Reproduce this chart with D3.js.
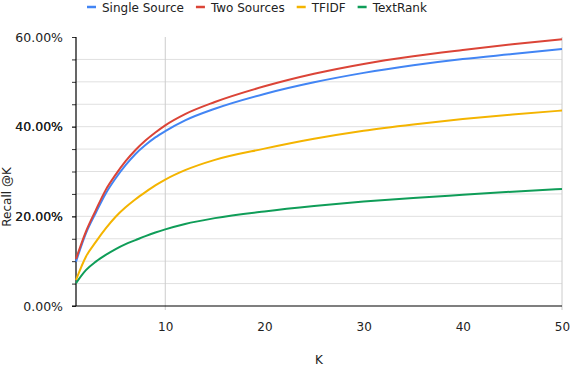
<!DOCTYPE html>
<html lang="en">
  <head>
    <meta charset="UTF-8" />
    <title>Recall @K</title>
    <script src="https://d3js.org/d3.v7.min.js" charset="utf-8"></script>
    <style>
      body { margin: 0; background: #fff; }
      text { font-family: "DejaVu Sans", sans-serif; fill: #222; }
    </style>
  </head>
  <body>
    <div id="chart"></div>
    <script>
      const kValues = [1, 2, 3, 4, 5, 6, 7, 8, 9, 10, 12, 15, 20, 25, 30, 35, 40, 45, 50];
      const singleSource = [0.099, 0.162, 0.208, 0.251, 0.285, 0.314, 0.339, 0.359, 0.376, 0.390, 0.414, 0.440, 0.473, 0.499, 0.520, 0.537, 0.551, 0.562, 0.573];
      const twoSources = [0.105, 0.166, 0.214, 0.259, 0.293, 0.323, 0.348, 0.369, 0.387, 0.403, 0.428, 0.455, 0.490, 0.518, 0.540, 0.557, 0.571, 0.584, 0.595];
      const tfidf = [0.058, 0.110, 0.143, 0.173, 0.199, 0.220, 0.238, 0.254, 0.269, 0.282, 0.303, 0.326, 0.351, 0.373, 0.391, 0.405, 0.417, 0.427, 0.436];
      const textRank = [0.051, 0.080, 0.099, 0.114, 0.127, 0.138, 0.147, 0.156, 0.164, 0.171, 0.183, 0.196, 0.211, 0.223, 0.233, 0.241, 0.248, 0.255, 0.261];

      const seriesNames = ["Single Source", "Two Sources", "TFIDF", "TextRank"];
      const seriesColors = ["#4285f4", "#db4437", "#f4b400", "#0f9d58"];
      const seriesValues = [singleSource, twoSources, tfidf, textRank];

      const yTicks = [0, 0.2, 0.4, 0.6];
      const yMinorTicks = [0.05, 0.1, 0.15, 0.2, 0.25, 0.3, 0.35, 0.4, 0.45, 0.5, 0.55];
      const xTicks = [10, 20, 30, 40, 50];
      const xGridTicks = [10, 50];

      const width = 570;
      const height = 366;
      const margin = { top: 37, right: 8, bottom: 60, left: 76 };

      const svg = d3.select("#chart")
        .append("svg")
        .attr("width", width)
        .attr("height", height);

      let x = d3.scaleLinear()
        .domain([1, 50])
        .range([margin.left, width - margin.right]);

      let y = d3.scaleLinear()
        .domain([0, 0.6])
        .range([height - margin.bottom, margin.top]);

      // horizontal gridlines
      svg.append("g")
        .selectAll("line")
        .data(yMinorTicks)
        .join("line")
        .attr("x1", margin.left)
        .attr("x2", width - margin.right)
        .attr("y1", d => y(d))
        .attr("y2", d => y(d))
        .attr("stroke", "#e0e0e0")
        .attr("stroke-width", 1);

      // vertical gridlines
      svg.append("g")
        .selectAll("line")
        .data(xGridTicks)
        .join("line")
        .attr("x1", d => x(d))
        .attr("x2", d => x(d))
        .attr("y1", margin.top)
        .attr("y2", height - margin.bottom + 4)
        .attr("stroke", "#cccccc")
        .attr("stroke-width", 1);

      // y axis: small ticks + labels
      let yAxis = d3.axisLeft(y)
        .tickValues(yMinorTicks.concat(yTicks))
        .tickSize(4)
        .tickFormat(d => (yTicks.includes(d) ? d3.format(".2%")(d) : ""));

      const yg = svg.append("g")
        .attr("transform", "translate(" + margin.left + ",0)")
        .call(yAxis);
      yg.select(".domain").remove();
      yg.selectAll(".tick line").attr("stroke", "#333");
      yg.selectAll(".tick text")
        .attr("x", -13)
        .style("font-size", "12.5px")
        .style("font-family", "DejaVu Sans")
        .attr("fill", "#222");

      // x axis labels
      let xAxis = d3.axisBottom(x)
        .tickValues(xTicks)
        .tickSize(0)
        .tickPadding(16);
      const xg = svg.append("g")
        .attr("transform", "translate(0," + (height - margin.bottom) + ")")
        .call(xAxis);
      xg.select(".domain").remove();
      xg.selectAll(".tick text")
        .style("font-size", "12px")
        .style("font-family", "DejaVu Sans")
        .attr("fill", "#222");

      // axis lines
      svg.append("line")
        .attr("x1", margin.left).attr("x2", margin.left)
        .attr("y1", margin.top).attr("y2", y(0))
        .attr("stroke", "#000").attr("stroke-width", 1.2);
      svg.append("line")
        .attr("x1", margin.left - 4).attr("x2", width - margin.right)
        .attr("y1", y(0)).attr("y2", y(0))
        .attr("stroke", "#000").attr("stroke-width", 1.2);

      // series lines
      let line = d3.line()
        .x((d, i) => x(kValues[i]))
        .y(d => y(d))
        .curve(d3.curveMonotoneX);

      svg.append("g")
        .selectAll("path")
        .data(seriesValues)
        .join("path")
        .attr("d", d => line(d))
        .attr("fill", "none")
        .attr("stroke", (d, i) => seriesColors[i])
        .attr("stroke-width", 2);

      // axis titles
      svg.append("text")
        .attr("x", (x(1) + x(50)) / 2)
        .attr("y", 364)
        .attr("text-anchor", "middle")
        .style("font-size", "12px")
        .text("K");

      svg.append("text")
        .attr("transform", "translate(11,197) rotate(-90)")
        .attr("text-anchor", "middle")
        .style("font-size", "12px")
        .text("Recall @K");

      // legend
      const legend = svg.append("g");
      let lx = 87;
      seriesNames.forEach((name, i) => {
        legend.append("line")
          .attr("x1", lx).attr("x2", lx + 9)
          .attr("y1", 7).attr("y2", 7)
          .attr("stroke", seriesColors[i])
          .attr("stroke-width", 2.5);
        const t = legend.append("text")
          .attr("x", lx + 15)
          .attr("y", 11.5)
          .style("font-size", "12px")
          .text(name);
        lx += 15 + t.node().getComputedTextLength() + 12;
      });
    </script>
  </body>
</html>
